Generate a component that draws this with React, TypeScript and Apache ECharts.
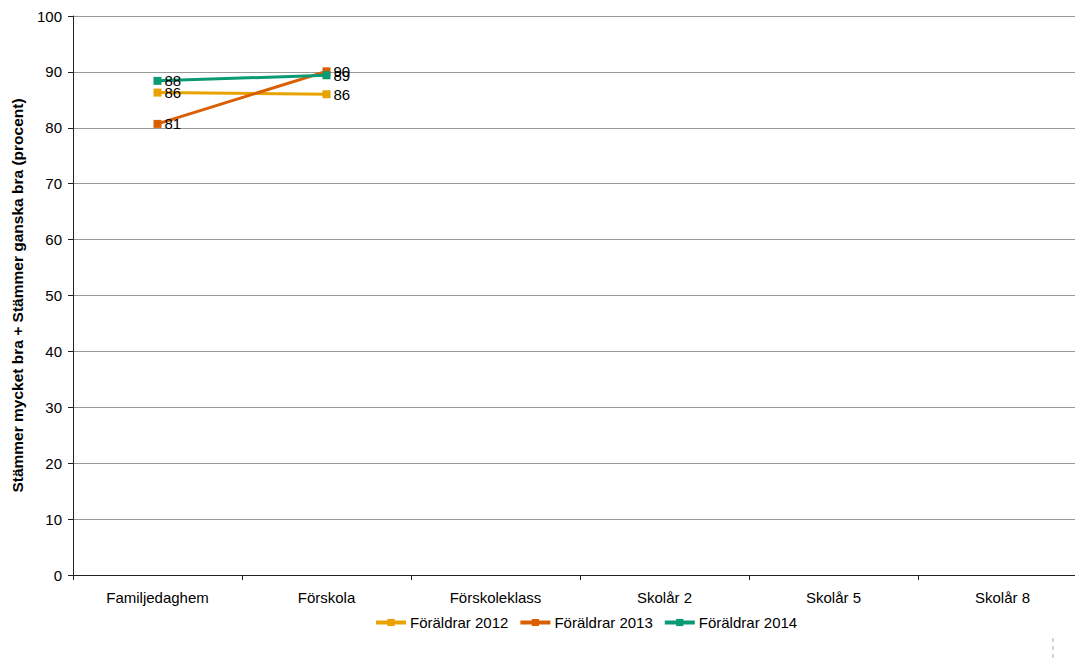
import React, { useEffect, useRef } from "react";
import * as echarts from "echarts";

const categories = ["Familjedaghem", "Förskola", "Förskoleklass", "Skolår 2", "Skolår 5", "Skolår 8"];
const seriesNames = ["Föräldrar 2012", "Föräldrar 2013", "Föräldrar 2014"];
const values2012 = [86.3, 86.0, null, null, null, null];
const values2013 = [80.7, 90.1, null, null, null, null];
const values2014 = [88.4, 89.4, null, null, null, null];
const colors = ["#E8A202", "#D95F02", "#0A9B74"];

export default function App() {
  const ref = useRef<HTMLDivElement>(null);
  useEffect(() => {
    const chart = echarts.init(ref.current!, null, { renderer: "svg" });
    const font = "'Liberation Sans', Arial, sans-serif";
    const data = [values2012, values2013, values2014];
    chart.setOption({
      animation: false,
      textStyle: { fontFamily: font },
      grid: { left: 73, right: 0, top: 16, bottom: 88, containLabel: false },
      legend: {
        top: 610,
        left: 369,
        itemWidth: 30,
        itemHeight: 9,
        itemGap: 10,
        lineStyle: { width: 4 },
        textStyle: { fontSize: 15, color: "#000", fontFamily: font, padding: [0, 0, 0, -1] },
        data: seriesNames,
      },
      xAxis: {
        type: "category",
        data: categories,
        boundaryGap: true,
        axisLine: { lineStyle: { color: "#222", width: 1 } },
        axisTick: { show: true, length: 5, lineStyle: { color: "#222" } },
        axisLabel: { color: "#000", fontSize: 15, margin: 15, fontFamily: font },
      },
      yAxis: {
        type: "value",
        min: 0,
        max: 100,
        interval: 10,
        name: "Stämmer mycket bra + Stämmer ganska bra (procent)",
        nameLocation: "middle",
        nameGap: 48,
        nameTextStyle: { fontWeight: "bold", fontSize: 15.5, color: "#000", fontFamily: font },
        axisLine: { show: true, lineStyle: { color: "#222", width: 1 } },
        axisTick: { show: true, length: 5, lineStyle: { color: "#222" } },
        axisLabel: { color: "#000", fontSize: 15, margin: 11, fontFamily: font },
        splitLine: { show: true, lineStyle: { color: "#999", width: 1 } },
      },
      series: seriesNames.map((n, i) => ({
        name: n,
        type: "line",
        data: data[i],
        color: colors[i],
        symbol: "rect",
        symbolSize: 8,
        lineStyle: { width: 3, color: colors[i] },
        itemStyle: { color: colors[i] },
        label: {
          show: true,
          position: "right",
          distance: 3,
          color: "#000",
          fontSize: 15,
          fontFamily: font,
          formatter: (p: any) => String(Math.round(p.value)),
        },
      })),
      graphic: [
        {
          type: "line",
          shape: { x1: 1053, y1: 638, x2: 1053, y2: 660 },
          style: { stroke: "#aaa", lineWidth: 1, lineDash: [4, 4] },
        },
      ],
    });
    return () => chart.dispose();
  }, []);
  return (
    <div style={{ position: "absolute", left: 0, top: 0, width: 1075, height: 663, overflow: "hidden" }}>
      <div ref={ref} style={{ width: 1087, height: 663 }} />
    </div>
  );
}
